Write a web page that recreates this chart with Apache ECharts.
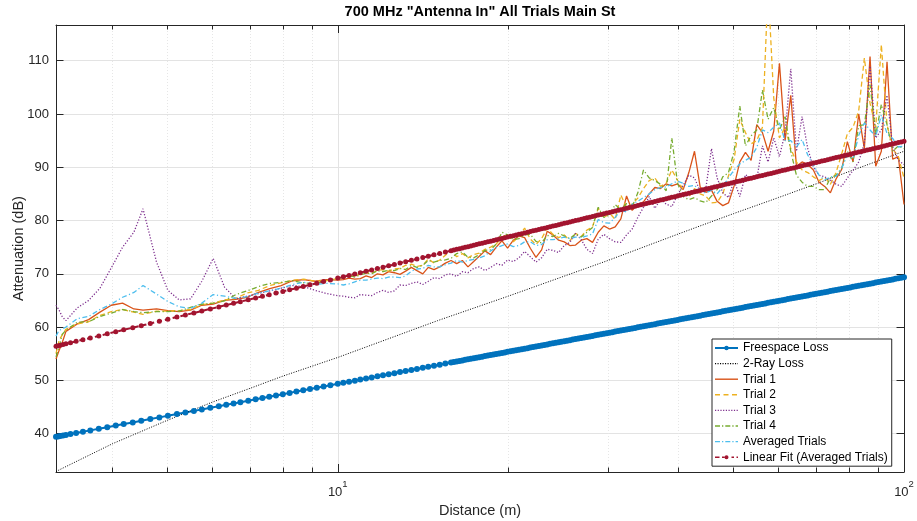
<!DOCTYPE html>
<html>
<head>
<meta charset="utf-8">
<script src="https://cdn.jsdelivr.net/npm/echarts@6/dist/echarts.min.js"></script>
<style>html,body{margin:0;padding:0;background:#fff}#c{width:917px;height:521px}</style>
</head>
<body>
<div id="c"></div>
<script>
// ---------- data ----------
const seriesNames = ['Freespace Loss','2-Ray Loss','Trial 1','Trial 2','Trial 3','Trial 4','Averaged Trials','Linear Fit (Averaged Trials)'];
const xMajorTicks = [10, 100];
const xMinorTicks = [4,5,6,7,8,9,20,30,40,50,60,70,80,90];
const yTicks = [40,50,60,70,80,90,100,110];

// distances of the model / fit samples (m)
const fitDist = [3.18,3.206,3.236,3.273,3.311,3.373,3.451,3.548,3.656,3.785,3.917,4.055,4.188,4.345,4.498,4.666,4.841,5.012,5.2,5.382,5.571,5.754,5.956,6.166,6.354,6.547,6.73,6.95,7.161,
7.362,7.568,7.78,7.998,8.222,8.453,8.69,8.933,9.183,9.441,9.705,
10,10.23,10.47,10.72,10.96,11.22,11.48,11.75,12.02,12.3,12.59,12.88,13.18,13.49,13.8,14.13,14.45,14.79,15.14,15.49,
15.85,16.03,16.22,16.41,16.6,16.79,16.98,17.18,17.38,17.58,17.78,17.99,18.2,18.41,18.62,18.84,19.05,19.28,19.5,19.72,
19.95,20.18,20.42,20.65,20.89,21.13,21.38,21.63,21.88,22.13,
22.39,22.65,22.91,23.17,23.44,23.71,23.99,24.27,24.55,24.83,
25.12,25.41,25.7,26,26.3,26.61,26.92,27.23,27.54,27.86,
28.18,28.51,28.84,29.17,29.51,29.85,30.2,30.55,30.9,31.26,
31.62,31.99,32.36,32.73,33.11,33.5,33.88,34.28,34.67,35.08,
35.48,35.89,36.31,36.73,37.15,37.58,38.02,38.46,38.9,39.36,
39.81,40.27,40.74,41.21,41.69,42.17,42.66,43.15,43.65,44.16,
44.67,45.19,45.71,46.24,46.77,47.32,47.86,48.42,48.98,49.55,
50.12,50.7,51.29,51.88,52.48,53.09,53.7,54.33,54.95,55.59,
56.23,56.89,57.54,58.21,58.88,59.57,60.26,60.95,61.66,62.37,
63.1,63.83,64.57,65.31,66.07,66.83,67.61,68.39,69.18,69.98,
70.79,71.61,72.44,73.28,74.13,74.99,75.86,76.74,77.62,78.52,
79.43,80.35,81.28,82.22,83.18,84.14,85.11,86.1,87.1,88.1,
89.13,90.16,91.2,92.26,93.33,94.41,95.5,96.61,97.72,98.86,
100];

const freespaceLoss = [39.40,39.47,39.55,39.65,39.75,39.91,40.11,40.35,40.61,40.91,41.21,41.51,41.79,42.11,42.41,42.73,43.05,43.35,43.67,43.97,44.27,44.55,44.85,45.15,45.41,45.67,45.91,46.19,46.45,
46.69,46.93,47.17,47.41,47.65,47.89,48.13,48.37,48.61,48.85,49.09,
49.35,49.55,49.75,49.95,50.15,50.35,50.55,50.75,50.95,51.15,51.35,51.55,51.75,51.95,52.15,52.35,52.55,52.75,52.95,53.15,
53.35,53.45,53.55,53.65,53.75,53.85,53.95,54.05,54.15,54.25,
54.35,54.45,54.55,54.65,54.75,54.85,54.95,55.05,55.15,55.25,
55.35,55.45,55.55,55.65,55.75,55.85,55.95,56.05,56.15,56.25,
56.35,56.45,56.55,56.65,56.75,56.85,56.95,57.05,57.15,57.25,
57.35,57.45,57.55,57.65,57.75,57.85,57.95,58.05,58.15,58.25,
58.35,58.45,58.55,58.65,58.75,58.85,58.95,59.05,59.15,59.25,
59.35,59.45,59.55,59.65,59.75,59.85,59.95,60.05,60.15,60.25,
60.35,60.45,60.55,60.65,60.75,60.85,60.95,61.05,61.15,61.25,
61.35,61.45,61.55,61.65,61.75,61.85,61.95,62.05,62.15,62.25,
62.35,62.45,62.55,62.65,62.75,62.85,62.95,63.05,63.15,63.25,
63.35,63.45,63.55,63.65,63.75,63.85,63.95,64.05,64.15,64.25,
64.35,64.45,64.55,64.65,64.75,64.85,64.95,65.05,65.15,65.25,
65.35,65.45,65.55,65.65,65.75,65.85,65.95,66.05,66.15,66.25,
66.35,66.45,66.55,66.65,66.75,66.85,66.95,67.05,67.15,67.25,
67.35,67.45,67.55,67.65,67.75,67.85,67.95,68.05,68.15,68.25,
68.35,68.45,68.55,68.65,68.75,68.85,68.95,69.05,69.15,69.25,
69.35];

const linearFit = [56.40,56.49,56.60,56.73,56.85,57.06,57.32,57.63,57.96,58.34,58.73,59.12,59.48,59.89,60.27,60.68,61.09,61.48,61.89,62.28,62.66,63.02,63.41,63.79,64.13,64.46,64.77,65.13,65.46,
65.77,66.08,66.39,66.70,67.01,67.31,67.62,67.93,68.24,68.55,68.86,
69.19,69.45,69.70,69.96,70.22,70.48,70.73,70.99,71.25,71.50,71.76,72.02,72.27,72.53,72.79,73.05,73.30,73.56,73.82,74.07,
74.33,74.46,74.59,74.72,74.84,74.97,75.10,75.23,75.36,75.49,
75.62,75.74,75.87,76.00,76.13,76.26,76.39,76.52,76.64,76.77,
76.90,77.03,77.16,77.29,77.41,77.54,77.67,77.80,77.93,78.06,
78.19,78.31,78.44,78.57,78.70,78.83,78.96,79.09,79.21,79.34,
79.47,79.60,79.73,79.86,79.99,80.12,80.24,80.37,80.50,80.63,
80.76,80.89,81.02,81.14,81.27,81.40,81.53,81.66,81.79,81.92,
82.04,82.17,82.30,82.43,82.56,82.69,82.82,82.94,83.07,83.20,
83.33,83.45,83.58,83.71,83.84,83.97,84.10,84.23,84.35,84.48,
84.61,84.74,84.87,85.00,85.13,85.26,85.38,85.51,85.64,85.77,
85.90,86.02,86.15,86.28,86.41,86.54,86.67,86.80,86.92,87.05,
87.18,87.31,87.44,87.57,87.70,87.83,87.95,88.08,88.21,88.34,
88.47,88.59,88.72,88.85,88.98,89.11,89.24,89.37,89.49,89.62,
89.75,89.88,90.01,90.14,90.27,90.40,90.52,90.65,90.78,90.91,
91.04,91.16,91.29,91.42,91.55,91.68,91.81,91.94,92.06,92.19,
92.32,92.45,92.58,92.71,92.84,92.96,93.09,93.22,93.35,93.48,
93.61,93.73,93.86,93.99,94.12,94.25,94.38,94.51,94.63,94.76,
94.89];

const rayDist = [3.18,4,5,6,7,8,10,15,20,30,40,50,60,70,80,90,100];
const rayLoss = [32.9,38.1,42.5,45.9,48.5,50.8,54.3,61.2,65.8,72.5,77.5,81.3,84.3,86.9,89.2,91.2,93.0];

// measurement distances (m)
const trialDist = [3.18,3.22,3.26,3.311,3.467,3.631,3.802,3.981,4.169,4.365,4.53,4.786,5.012,5.248,5.495,5.754,6.026,6.31,6.607,6.918,7.244,7.586,7.943,8.318,8.71,9.12,9.55,10,
10.23,10.47,10.72,10.96,11.22,11.48,11.75,12.02,12.3,12.59,
12.88,13.18,13.49,13.8,14.13,14.45,14.79,15.14,15.49,15.85,
16.22,16.6,16.98,17.38,17.78,18.2,18.62,19.05,19.5,19.95,
20.42,20.89,21.38,21.88,22.39,22.91,23.44,23.99,24.55,25.12,
25.7,26.3,26.92,27.54,28.18,28.84,29.51,30.2,30.9,31.62,
32.36,33.11,33.88,34.67,35.48,36.31,37.15,38.02,38.9,39.81,
40.74,41.69,42.66,43.65,44.67,45.71,46.77,47.86,48.98,50.12,
51.29,52.48,53.7,54.95,56.23,57.54,58.88,60.26,61.66,63.1,
64.57,66.07,67.61,69.18,70.79,72.44,74.13,75.86,77.62,79.43,
81.28,83.18,85.11,87.1,89.13,91.2,93.33,95.5,97.72,100];

const trial1 = [54.0,55.6,57.0,59.2,60.6,61.4,62.8,64.1,64.5,63.4,63.2,63.4,63.1,62.9,63.2,64.1,64.3,65.0,65.2,65.6,66.5,67.2,67.8,68.7,68.9,68.6,68.9,68.8,
68.9,69.2,69.0,69.1,69.6,69.3,70.0,69.8,70.4,70.2,
69.9,70.5,71.2,70.6,70.0,71.2,70.8,71.3,72.0,72.5,
71.9,72.5,71.3,72.3,73.3,74.3,73.6,75.0,76.2,74.8,
76.3,77.1,76.8,74.8,73.1,74.5,78.0,77.3,76.3,76.0,
75.3,75.4,76.3,76.6,75.9,77.8,79.0,78.4,78.8,80.3,
84.6,81.9,83.0,83.5,85.0,86.2,86.0,86.9,86.5,86.9,
85.8,89.0,93.0,86.3,85.3,85.7,83.6,82.8,83.3,86.5,
91.0,92.8,91.3,98.0,96.5,93.0,96.8,109.5,95.0,103.5,
90.2,91.0,90.5,89.5,87.2,86.4,85.2,87.8,89.6,94.8,
91.0,100.0,93.5,110.8,90.2,93.0,109.8,91.5,92.0,83.0];

const trial2 = [55.0,57.5,58.5,59.6,60.6,61.0,62.2,62.9,63.3,62.8,62.4,63.0,63.0,63.1,63.3,64.2,64.5,65.1,65.4,66.4,66.9,67.8,68.3,68.8,69.0,68.6,68.7,69.1,
69.3,69.6,69.5,70.0,70.2,70.1,70.6,70.8,70.5,70.9,
71.0,71.6,71.8,71.4,71.6,72.8,72.0,72.6,73.5,74.4,
73.2,73.8,73.0,73.6,73.9,74.6,75.0,75.6,76.9,77.4,
76.0,77.0,78.6,76.5,75.5,76.6,78.6,77.4,76.8,77.3,
76.2,77.6,77.0,78.2,78.8,82.3,80.5,81.4,80.2,84.8,
82.4,83.1,84.2,86.0,87.5,88.0,86.4,87.0,89.5,87.6,
85.8,84.4,86.0,85.0,84.6,83.3,83.4,85.0,88.4,91.5,
99.0,96.5,94.4,95.0,97.5,124.0,103.0,95.5,97.5,93.5,
91.0,89.5,89.0,88.2,87.5,88.1,86.8,89.0,92.5,96.3,
97.5,100.6,110.5,102.0,97.5,113.0,98.0,93.5,92.0,88.0];

const trial3 = [64.1,63.2,62.0,61.2,63.6,65.0,67.3,71.1,75.0,77.8,82.2,72.2,66.9,65.1,65.3,68.6,72.9,67.5,65.3,65.8,66.3,66.8,67.3,67.8,67.6,66.9,66.3,65.9,
65.8,65.6,65.5,66.1,66.0,65.9,66.5,66.9,66.5,66.8,
67.9,67.8,68.2,68.5,68.0,68.6,69.3,69.1,69.8,70.0,
69.5,70.4,70.2,71.0,71.3,70.6,71.2,71.9,71.6,72.6,
72.3,73.0,74.2,73.2,72.2,73.0,74.6,74.4,74.0,75.3,
75.9,77.6,76.4,74.6,73.8,76.5,77.4,76.6,76.0,75.9,
77.3,78.4,80.6,82.5,84.5,82.3,83.9,83.1,82.6,84.8,
86.6,88.5,88.0,85.5,86.0,93.5,88.0,85.2,84.3,87.5,
84.5,88.6,88.0,87.8,94.0,91.0,95.5,92.0,96.5,108.5,
93.0,99.5,93.5,90.0,88.5,88.2,87.6,86.8,86.4,88.0,
89.4,91.0,94.5,109.0,95.5,97.0,103.5,93.8,91.3,90.5];

const trial4 = [54.4,56.2,58.6,59.4,60.9,61.0,62.0,62.6,63.3,62.9,62.7,62.9,62.9,63.0,63.7,64.3,64.5,64.9,66.1,66.8,67.6,68.2,68.4,68.7,68.3,68.1,68.8,69.0,
69.4,69.7,69.4,69.8,70.1,70.0,70.6,70.4,70.7,70.6,
71.0,70.8,71.6,71.2,71.6,72.5,72.2,72.5,72.6,72.9,
73.8,74.1,73.1,73.0,73.6,74.4,74.5,75.6,77.8,77.3,
76.4,76.6,77.3,77.4,76.1,75.8,77.2,77.0,77.6,77.1,
76.6,77.5,76.9,77.8,78.7,82.5,80.6,81.0,83.0,82.0,
83.2,82.6,85.2,89.5,88.0,87.5,86.8,85.6,95.5,87.0,
84.5,83.9,84.3,83.7,83.4,84.6,85.8,88.2,89.0,93.0,
101.5,94.0,95.9,97.0,104.5,99.0,101.2,97.0,99.5,93.0,
88.5,87.2,86.4,86.4,85.8,85.8,88.0,88.5,89.8,93.0,
91.0,97.8,98.0,105.5,96.0,101.8,98.0,93.0,94.0,93.5];

const averaged = [58.3,59.4,59.6,60.0,61.6,62.0,63.3,64.3,65.6,66.5,67.8,66.2,64.8,63.8,63.5,64.5,66.1,65.8,65.4,65.7,66.4,66.8,67.3,68.0,68.4,68.0,68.2,68.1,
67.9,68.1,68.5,68.8,68.8,69.0,69.2,69.1,69.4,69.4,
69.3,69.6,70.5,70.9,71.0,71.6,71.3,71.3,71.7,72.0,
72.5,72.2,72.5,72.7,73.0,73.4,74.3,74.9,75.3,75.6,
75.1,75.3,76.0,76.0,75.3,75.5,76.4,76.4,76.6,76.9,
76.6,76.9,76.8,77.1,77.5,80.2,79.6,79.5,80.6,82.0,
81.6,83.1,83.6,84.3,85.0,85.8,86.2,86.3,86.9,87.4,
87.0,86.4,86.6,85.5,85.2,85.7,85.0,86.3,88.0,89.5,
90.6,91.3,91.9,93.7,97.0,96.5,97.5,98.3,95.0,95.0,
93.8,95.2,92.3,90.5,88.5,87.6,88.2,88.3,89.8,92.3,
91.6,96.0,98.3,97.0,95.8,99.8,96.3,95.4,93.8,94.0];

// ---------- chart ----------
const FONT = '"Liberation Sans", Arial, Helvetica, sans-serif';
const AX = '#262626';
const pairs = (xs, ys) => xs.map((x, i) => [x, ys[i]]);

// legend icon: dash pattern across a 23px sample, optional centre dot
function legendIcon(pattern, h, r) {
  const cy = Math.max(r || 0, h / 2);
  const y0 = cy - h / 2, y1 = cy + h / 2;
  let p = 'path://M0,' + y0 + 'M23,' + y1;
  let x = 0, k = 0;
  while (x < 23) {
    const len = pattern[k % pattern.length];
    if (k % 2 === 0) {
      const e = Math.min(x + len, 23);
      p += 'M' + x + ',' + y0 + 'H' + e + 'V' + y1 + 'H' + x + 'Z';
    }
    x += len; k++;
  }
  if (r) {
    p += 'M' + (11.5 - r) + ',' + cy + 'A' + r + ',' + r + ' 0 1 1 ' + (11.5 + r) + ',' + cy +
         'A' + r + ',' + r + ' 0 1 1 ' + (11.5 - r) + ',' + cy + 'Z';
  }
  return p;
}
const legendIcons = [
  legendIcon([23], 1.8, 2.2),
  legendIcon([1.1, 1.4], 1.1),
  legendIcon([23], 1.4),
  legendIcon([5, 3.5], 1.4),
  legendIcon([1.2, 1.5], 1.3),
  legendIcon([5, 2, 1.3, 2], 1.3),
  legendIcon([5, 2, 1.3, 2], 1.3),
  legendIcon([4.5, 2.5, 2.5, 7, 2.5, 2.5], 1.6, 2)
];

const xRange = {type: 'log', logBase: 10, min: 3.18, max: 100, gridIndex: 0};
const yRange = {type: 'value', min: 32.8, max: 116.7, gridIndex: 0};

function xAxisDef(position, ticks, tickLen, withLabel, withLine, split) {
  return Object.assign({}, xRange, {
    position: position,
    axisLine: {show: withLine, onZero: false, lineStyle: {color: AX, width: 1}},
    axisTick: {show: true, inside: true, length: tickLen, customValues: ticks, lineStyle: {color: AX, width: 1}},
    axisLabel: withLabel ? {
      show: true, customValues: xMajorTicks, margin: 7,
      formatter: v => '{b|10}{s|' + Math.round(Math.log10(v)) + '}',
      rich: {
        b: {fontSize: 13, fontFamily: FONT, color: AX, lineHeight: 20, verticalAlign: 'bottom'},
        s: {fontSize: 9.5, fontFamily: FONT, color: AX, lineHeight: 8, verticalAlign: 'top'}
      }
    } : {show: false},
    splitLine: split || {show: false},
    name: withLabel ? 'Distance (m)' : '',
    nameLocation: 'middle', nameGap: 29,
    nameTextStyle: {fontSize: 14.5, fontFamily: FONT, color: AX}
  });
}
function yAxisDef(position, withLabel) {
  return Object.assign({}, yRange, {
    position: position,
    axisLine: {show: true, onZero: false, lineStyle: {color: AX, width: 1}},
    axisTick: {show: true, inside: true, length: 7.5, customValues: yTicks, lineStyle: {color: AX, width: 1}},
    axisLabel: withLabel ? {show: true, customValues: yTicks, margin: 7, fontSize: 13, fontFamily: FONT, color: AX} : {show: false},
    splitLine: withLabel ? {show: true, lineStyle: {color: '#e3e3e3', width: 1}} : {show: false},
    name: withLabel ? 'Attenuation (dB)' : '',
    nameLocation: 'middle', nameGap: 30, nameMoveOverlap: false,
    nameTextStyle: {fontSize: 14.5, fontFamily: FONT, color: AX}
  });
}

function lineSeries(name, xs, ys, color, width, dash, symbolSize) {
  return {
    name: name, type: 'line', xAxisIndex: 0, yAxisIndex: 0,
    data: pairs(xs, ys),
    symbol: symbolSize ? 'circle' : 'none',
    symbolSize: symbolSize || 0,
    showSymbol: !!symbolSize,
    itemStyle: {color: color},
    lineStyle: {color: color, width: width, type: dash || 'solid'},
    silent: true, emphasis: {disabled: true}, clip: true
  };
}

const option = {
  animation: false,
  backgroundColor: '#ffffff',
  grid: {left: 56, right: 13, top: 25, bottom: 49, outerBoundsMode: 'none', containLabel: false},
  graphic: [{
    type: 'text', x: 480, y: 12, silent: true,
    style: {text: '700 MHz "Antenna In" All Trials Main St', fill: '#000', font: 'bold 14.5px ' + FONT, align: 'center', verticalAlign: 'middle'}
  }],
  xAxis: [
    xAxisDef('bottom', xMajorTicks, 8, true, true, {show: true, lineStyle: {color: '#e3e3e3', width: 1}}),
    xAxisDef('bottom', xMinorTicks, 4.5, false, false, {show: true, lineStyle: {color: '#e6e6e6', width: 1, type: [1, 2]}}),
    xAxisDef('top', xMajorTicks, 8, false, true, null),
    xAxisDef('top', xMinorTicks, 4.5, false, false, null)
  ],
  yAxis: [yAxisDef('left', true), yAxisDef('right', false)],
  legend: {
    orient: 'vertical', left: 712, top: 339,
    itemWidth: 23, itemHeight: 5, itemGap: 3.6,
    padding: [3, 4, 3, 3],
    backgroundColor: '#ffffff', borderColor: AX, borderWidth: 1, borderRadius: 0,
    itemStyle: {borderWidth: 0},
    textStyle: {fontSize: 12, fontFamily: FONT, color: '#000', lineHeight: 12},
    data: seriesNames.map((n, i) => ({name: n, icon: legendIcons[i]})),
    selectedMode: false
  },
  series: [
    lineSeries(seriesNames[0], fitDist, freespaceLoss, '#0072BD', 2, 'solid', 6),
    lineSeries(seriesNames[1], rayDist, rayLoss, '#000000', 1, [1, 1.5]),
    lineSeries(seriesNames[2], trialDist, trial1, '#D95319', 1.3, 'solid'),
    lineSeries(seriesNames[3], trialDist, trial2, '#EDB120', 1.3, [5, 3]),
    lineSeries(seriesNames[4], trialDist, trial3, '#7E2F8E', 1.3, [1.2, 1.8]),
    lineSeries(seriesNames[5], trialDist, trial4, '#77AC30', 1.3, [5, 2.5, 1.2, 2.5]),
    lineSeries(seriesNames[6], trialDist, averaged, '#4DBEEE', 1.3, [5, 2.5, 1.2, 2.5]),
    lineSeries(seriesNames[7], fitDist, linearFit, '#A2142F', 2, [5, 3], 5)
  ]
};

const chart = echarts.init(document.getElementById('c'), null, {renderer: 'canvas'});
chart.setOption(option);
</script>
</body>
</html>
